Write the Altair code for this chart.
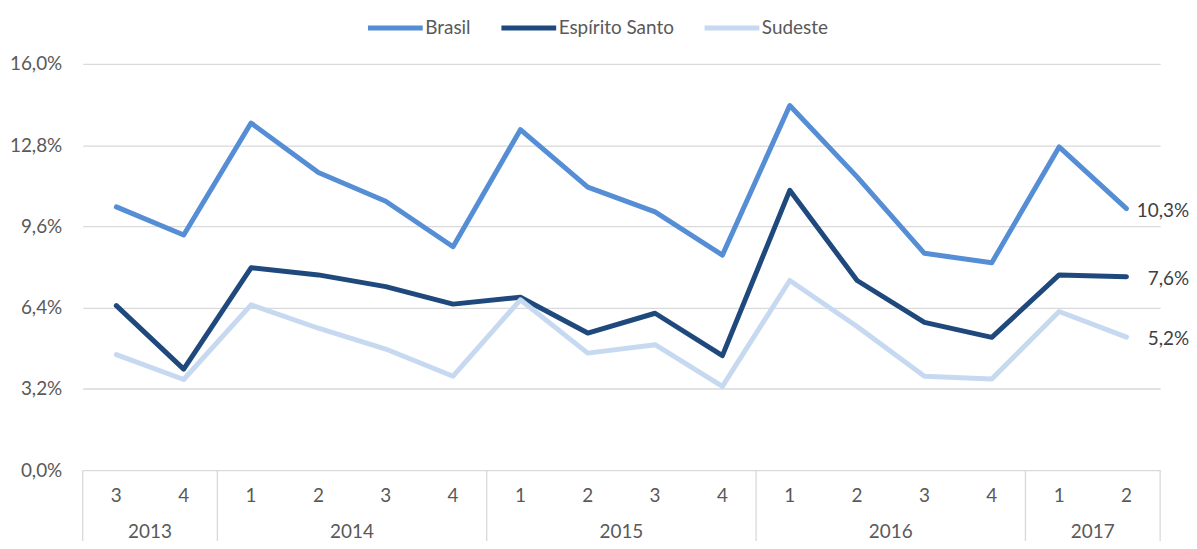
import altair as alt
import pandas as pd

years = [2013, 2013, 2014, 2014, 2014, 2014, 2015, 2015, 2015, 2015, 2016, 2016, 2016, 2016, 2017, 2017]
quarters = [3, 4, 1, 2, 3, 4, 1, 2, 3, 4, 1, 2, 3, 4, 1, 2]
brasil = [10.37, 9.26, 13.67, 11.72, 10.59, 8.80, 13.41, 11.15, 10.17, 8.47, 14.36, 11.55, 8.54, 8.17, 12.73, 10.30]
espirito_santo = [6.48, 3.98, 7.97, 7.69, 7.23, 6.54, 6.81, 5.40, 6.18, 4.51, 11.02, 7.47, 5.82, 5.23, 7.69, 7.62]
sudeste = [4.55, 3.57, 6.51, 5.59, 4.77, 3.70, 6.71, 4.61, 4.94, 3.30, 7.47, 5.66, 3.70, 3.59, 6.25, 5.24]
series_names = ["Brasil", "Espírito Santo", "Sudeste"]
series_colors = ["#558ED5", "#1F497D", "#C6D9F1"]
y_ticks = [0, 3.2, 6.4, 9.6, 12.8, 16.0]

W, H = 1082, 408
FONT = "Lato"
FS = 19

rows = []
last_rows = []
for name, vals in zip(series_names, [brasil, espirito_santo, sudeste]):
    for i, v in enumerate(vals):
        rows.append({"serie": name, "pos": i + 0.5, "valor": v})
    last_rows.append({"serie": name, "pos": len(vals) - 0.5, "valor": vals[-1],
                      "lbl": ("%.1f" % vals[-1]).replace(".", ",") + "%"})
df = pd.DataFrame(rows)
ldf = pd.DataFrame(last_rows)

qdf = pd.DataFrame({"pos": [i + 0.5 for i in range(len(quarters))], "q": [str(q) for q in quarters]})

yr_rows = []
for y in sorted(set(years)):
    idx = [i for i, yy in enumerate(years) if yy == y]
    yr_rows.append({"ano": str(y), "mid": (min(idx) + max(idx) + 1) / 2})
ydf = pd.DataFrame(yr_rows)
bvals = [0]
for i in range(1, len(years)):
    if years[i] != years[i - 1]:
        bvals.append(i)
bvals.append(len(years))
bounds = pd.DataFrame({"b": [float(b) for b in bvals]})

xscale = alt.Scale(domain=[0, len(quarters)], nice=False, zero=False)
yscale = alt.Scale(domain=[0, 16], nice=False)

lines = alt.Chart(df).mark_line(strokeWidth=5, strokeCap="round", strokeJoin="round").encode(
    x=alt.X("pos:Q", scale=xscale, axis=None),
    y=alt.Y("valor:Q", scale=yscale, axis=alt.Axis(
        values=y_ticks, title=None, grid=True, gridColor="#D9D9D9", gridWidth=1.3,
        domain=False, ticks=False, labelPadding=21, labelFont=FONT, labelFontSize=FS,
        labelColor="#595959",
        labelExpr="replace(format(datum.value, '.1f'), '.', ',') + '%'")),
    color=alt.Color("serie:N", scale=alt.Scale(domain=series_names, range=series_colors),
                    legend=alt.Legend(title=None, orient="none", direction="horizontal",
                                      legendX=284, legendY=-66, symbolType="stroke",
                                      symbolStrokeWidth=5, symbolSize=3025,
                                      labelFont=FONT, labelFontSize=FS, labelColor="#595959",
                                      labelOffset=0, columnPadding=20)),
)

end_labels = alt.Chart(ldf).mark_text(
    align="right", baseline="middle", dx=63, dy=2, font=FONT, fontSize=FS, color="#404040"
).encode(
    x=alt.X("pos:Q", scale=xscale, axis=None),
    y=alt.Y("valor:Q", scale=yscale),
    text="lbl:N",
)

q_labels = alt.Chart(qdf).mark_text(baseline="middle", font=FONT, fontSize=FS, color="#595959").encode(
    x=alt.X("pos:Q", scale=xscale, axis=None),
    y=alt.value(H + 26),
    text="q:N",
)

y_labels = alt.Chart(ydf).mark_text(baseline="middle", font=FONT, fontSize=FS, color="#595959").encode(
    x=alt.X("mid:Q", scale=xscale, axis=None),
    y=alt.value(H + 62),
    text="ano:N",
)

seps = alt.Chart(bounds).mark_rule(color="#D9D9D9", strokeWidth=1.3).encode(
    x=alt.X("b:Q", scale=xscale, axis=None),
    y=alt.value(H),
    y2=alt.value(H + 90),
)

chart = alt.layer(seps, lines, end_labels, q_labels, y_labels).properties(
    width=W, height=H,
    autosize=alt.AutoSizeParams(type="none"),
    padding={"left": 75, "top": 55, "right": 29, "bottom": 70},
    background="white",
).configure_view(strokeWidth=0)

chart.save("out.html", embed_options={"renderer": "svg", "actions": False})
